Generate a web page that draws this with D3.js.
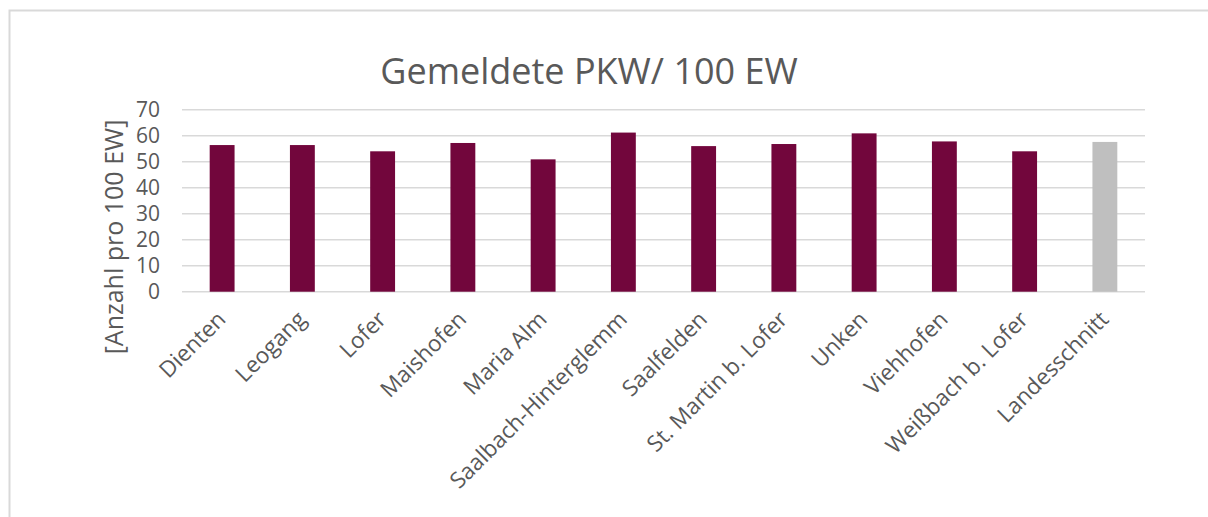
<!DOCTYPE html>
<html><head><meta charset="utf-8">
<script src="https://cdn.jsdelivr.net/npm/d3@7"></script>
<style>body{margin:0;background:#fff}svg{display:block}text{font-family:"Open Sans",sans-serif;fill:#595959}</style>
</head><body>
<script>
const categories = ["Dienten","Leogang","Lofer","Maishofen","Maria Alm","Saalbach-Hinterglemm","Saalfelden","St. Martin b. Lofer","Unken","Viehhofen","Weißbach b. Lofer","Landesschnitt"];
const values = [56.4,56.4,54.0,57.2,50.9,61.2,56.0,56.8,60.9,57.8,54.0,57.6];
const highlight = ["Landesschnitt"];
const yTicks = [0,10,20,30,40,50,60,70];
const title = "Gemeldete PKW/ 100 EW";
const yTitle = "[Anzahl pro 100 EW]";

const W=1208,H=517;
const svg=d3.select("body").append("svg").attr("width",W).attr("height",H);
svg.append("path").attr("d","M9.5,"+H+"V10.5H"+W).attr("fill","none").attr("stroke","#d9d9d9").attr("stroke-width",2);

const x=d3.scaleBand().domain(categories).range([182,1145]).paddingInner(0.69).paddingOuter(0.345);
const y=d3.scaleLinear().domain([0,70]).range([291.7,109.7]);

svg.append("g").selectAll("line").data(yTicks).join("line")
  .attr("x1",182).attr("x2",1145).attr("y1",d=>y(d)).attr("y2",d=>y(d))
  .attr("stroke","#d9d9d9").attr("stroke-width",1.5);

svg.append("g").selectAll("rect").data(categories).join("rect")
  .attr("x",d=>x(d)).attr("width",x.bandwidth())
  .attr("y",(d,i)=>y(values[i])).attr("height",(d,i)=>y(0)-y(values[i]))
  .attr("fill",d=>highlight.includes(d)?"#bfbfbf":"#72063c");

const ya=svg.append("g").attr("transform","translate(182,0)").call(d3.axisLeft(y).tickValues(yTicks).tickSize(0).tickPadding(22));
ya.select(".domain").remove();
ya.selectAll("text").attr("font-size",21).attr("font-family","'Open Sans',sans-serif").attr("fill","#595959");

const xa=svg.append("g").attr("transform","translate(0,291.7)").call(d3.axisBottom(x).tickSize(0).tickPadding(0));
xa.select(".domain").remove();
xa.selectAll("text").attr("font-size",22.5).attr("font-family","'Open Sans',sans-serif").attr("fill","#595959")
  .attr("text-anchor","end").attr("dy",0).attr("y",0)
  .attr("transform","translate(5,29) rotate(-45)");

svg.append("text").attr("x",589).attr("y",84).attr("text-anchor","middle").attr("font-size",36).text(title);
svg.append("text").attr("transform","translate(123,237) rotate(-90)").attr("text-anchor","middle").attr("font-size",25).text(yTitle);
</script>
</body></html>
